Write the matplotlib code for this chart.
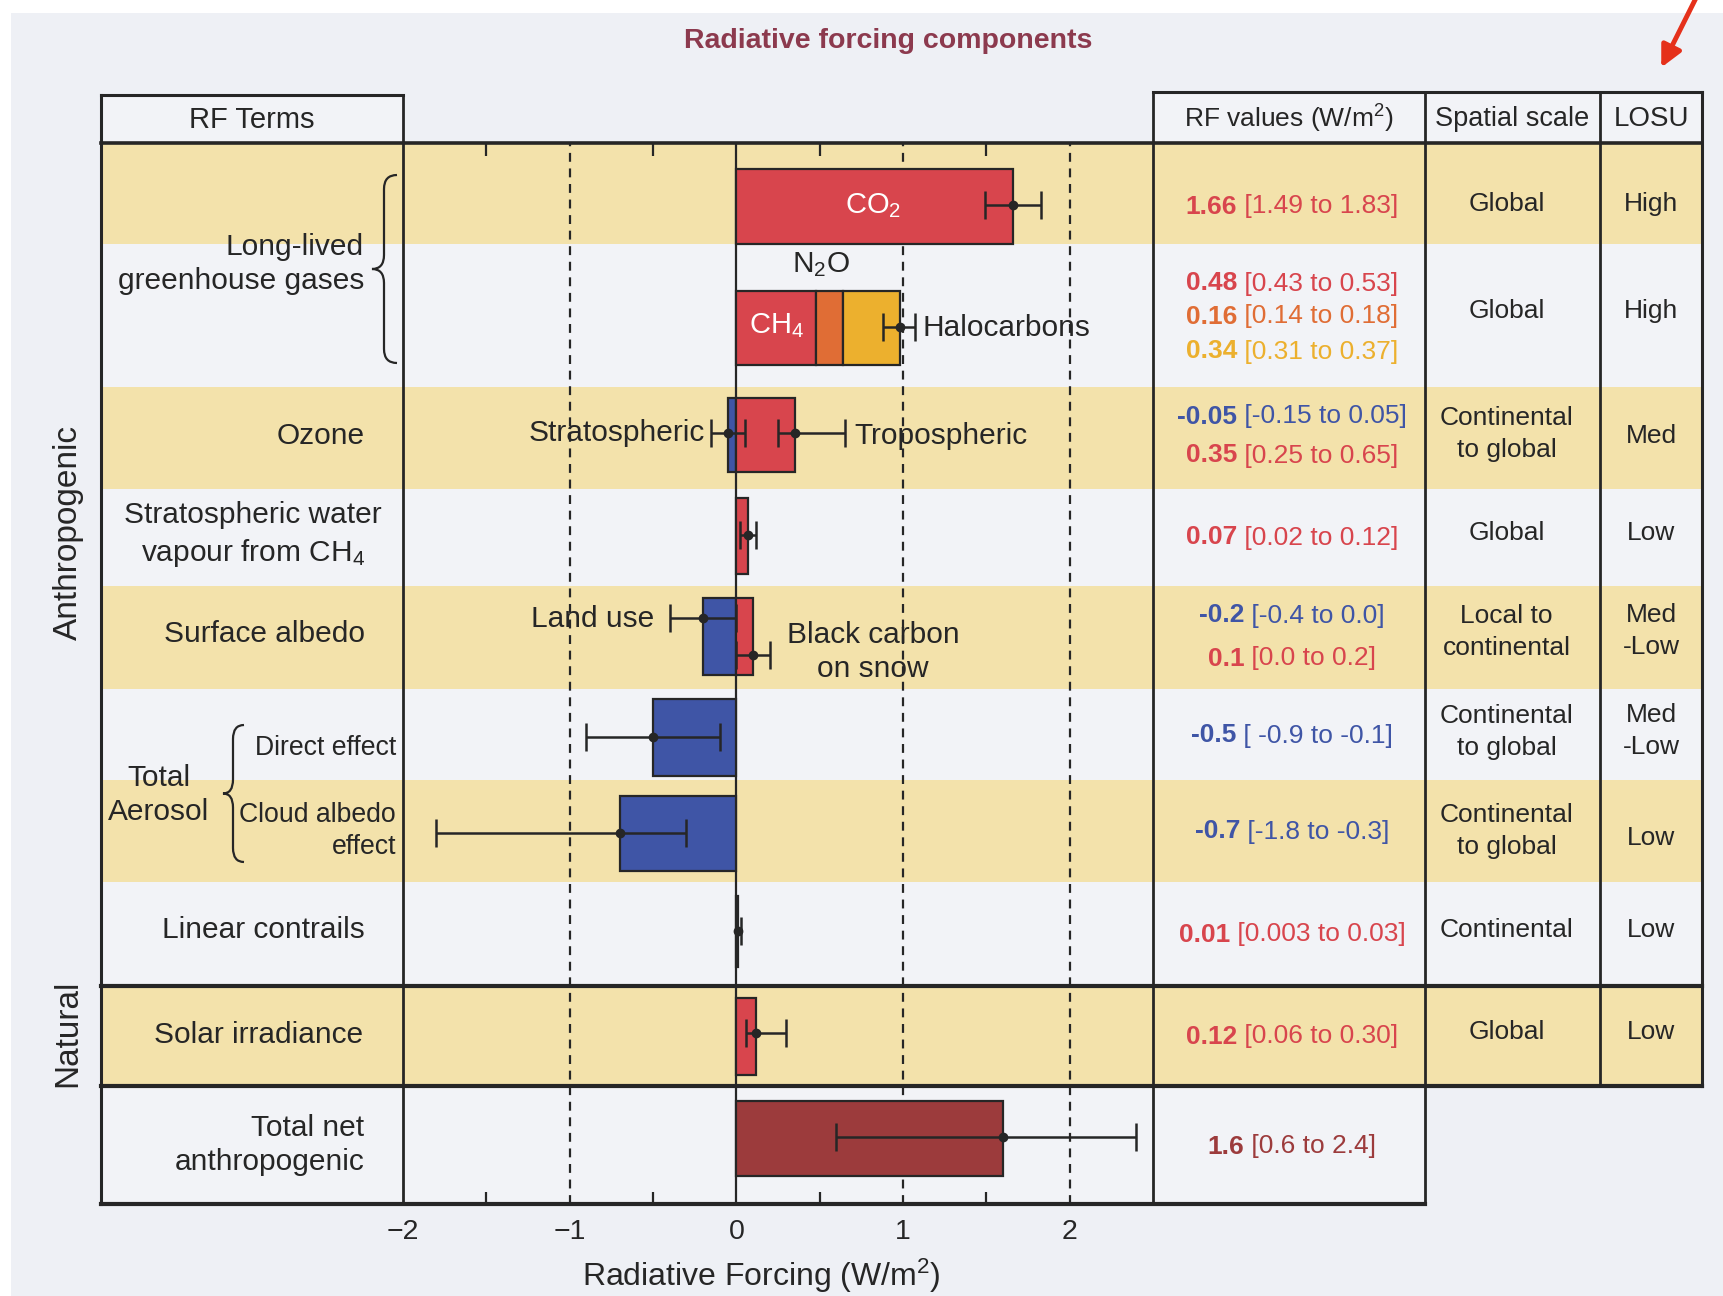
import matplotlib.pyplot as plt
from matplotlib.path import Path
from matplotlib.patches import PathPatch, Rectangle

plt.rcParams['font.family'] = ['Liberation Sans', 'DejaVu Sans']
plt.rcParams['mathtext.fontset'] = 'custom'
plt.rcParams['mathtext.rm'] = 'Liberation Sans'
plt.rcParams['mathtext.it'] = 'Liberation Sans:italic'
plt.rcParams['mathtext.bf'] = 'Liberation Sans:bold'

# ---------------- data ----------------
# single bars (W/m2)
bar_terms = ['CO2', 'Strat. ozone', 'Trop. ozone', 'Strat. water vapour', 'Land use',
             'BC on snow', 'Direct effect', 'Cloud albedo', 'Contrails', 'Solar', 'Total net']
bar_values = [1.66, -0.05, 0.35, 0.07, -0.2, 0.1, -0.5, -0.7, 0.01, 0.12, 1.6]

# stacked long-lived greenhouse gases
ghg_terms = ['CH4', 'N2O', 'Halocarbons']
ghg_values = [0.48, 0.16, 0.34]

# uncertainty ranges drawn as error bars
err_terms = ['CO2', 'CH4+N2O+Halo', 'Strat. ozone', 'Trop. ozone', 'Strat. water vapour', 'Land use',
             'BC on snow', 'Direct effect', 'Cloud albedo', 'Contrails', 'Solar', 'Total net']
err_best = [1.66, 0.98, -0.05, 0.35, 0.07, -0.2, 0.1, -0.5, -0.7, 0.01, 0.12, 1.6]
err_low = [1.49, 0.88, -0.15, 0.25, 0.02, -0.4, 0.0, -0.9, -1.8, 0.003, 0.06, 0.6]
err_high = [1.83, 1.07, 0.05, 0.65, 0.12, 0.0, 0.2, -0.1, -0.3, 0.03, 0.30, 2.4]

# table: RF values column
rf_best = ['1.66', '0.48', '0.16', '0.34', '-0.05', '0.35', '0.07', '-0.2', '0.1',
           '-0.5', '-0.7', '0.01', '0.12', '1.6']
rf_range = ['[1.49 to 1.83]', '[0.43 to 0.53]', '[0.14 to 0.18]', '[0.31 to 0.37]',
            '[-0.15 to 0.05]', '[0.25 to 0.65]', '[0.02 to 0.12]', '[-0.4 to 0.0]',
            '[0.0 to 0.2]', '[ -0.9 to -0.1]', '[-1.8 to -0.3]', '[0.003 to 0.03]',
            '[0.06 to 0.30]', '[0.6 to 2.4]']

spatial = ['Global', 'Global', 'Continental\nto global', 'Global', 'Local to\ncontinental',
           'Continental\nto global', 'Continental\nto global', 'Continental', 'Global']
losu = ['High', 'High', 'Med', 'Low', 'Med\n-Low', 'Med\n-Low', 'Low', 'Low', 'Low']

xticks = [-2, -1, 0, 1, 2]
xtick_labels = ['\u22122', '\u22121', '0', '1', '2']

# ---------------- styles / layout (pixels) ----------------
RED, BLUE, ORANGE, YELLOW, DARKRED = '#D8454D', '#3F55A6', '#E06D35', '#ECB02E', '#9C3B3C'
TAN, PALE, BG, INK = '#F3E2AB', '#F2F3F7', '#EEF0F5', '#262626'

bar_colors = [RED, BLUE, RED, RED, BLUE, RED, BLUE, BLUE, RED, RED, DARKRED]
bar_rows = [(169, 244), (398, 472), (398, 472), (498, 574), (598, 675), (598, 675),
            (699, 776), (796, 871), (896, 967), (998, 1075), (1101, 1176)]
ghg_colors = [RED, ORANGE, YELLOW]
ghg_row = (291, 365)
err_y = [205, 327, 433, 433, 535, 618, 655, 737, 833, 931, 1033, 1137]

rf_colors = [RED, RED, ORANGE, YELLOW, BLUE, RED, RED, BLUE, RED, BLUE, BLUE, RED, RED, DARKRED]
rf_y = [204, 281, 314, 349, 414, 453, 535, 613, 656, 733, 829, 932, 1034, 1144]
spatial_y = [204, 311, 434, 533, 632, 732, 831, 930, 1032]
losu_y = [204, 311, 436, 533, 631, 731, 838, 930, 1032]

tan_rows = [(143, 244), (387, 489), (586, 689), (780, 882), (986, 1086)]

W, H = 1723, 1296
X_L, X_T, X_P, X_RF, X_SS, X_LO = 101, 403, 1153, 1425, 1600, 1702
Y_TOP, Y_HEAD, Y_NAT, Y_TOT, Y_BOT = 95, 143, 986, 1086, 1204

fig = plt.figure(figsize=(W / 100, H / 100), dpi=100, facecolor='white')

# overlay in pixel coordinates for table and decorations
ov = fig.add_axes([0, 0, 1, 1], zorder=0)
ov.set_xlim(0, W)
ov.set_ylim(H, 0)
ov.axis('off')

ov.add_patch(Rectangle((11, 13), W - 11, H - 13, color=BG, lw=0))
ov.add_patch(Rectangle((X_L, Y_HEAD), X_LO - X_L, Y_TOT - Y_HEAD, color=PALE, lw=0))
for y0, y1 in tan_rows:
    ov.add_patch(Rectangle((X_L, y0), X_LO - X_L, y1 - y0, color=TAN, lw=0))
ov.add_patch(Rectangle((X_L, Y_TOT), X_RF - X_L, Y_BOT - Y_TOT, color=PALE, lw=0))
ov.add_patch(Rectangle((X_L, Y_TOP), X_T - X_L, Y_HEAD - Y_TOP, color=PALE, lw=0))
ov.add_patch(Rectangle((X_P, 92), X_LO - X_P, Y_HEAD - 92, color=PALE, lw=0))

lk = dict(color=INK, solid_capstyle='projecting')
ov.plot([X_L, X_T], [Y_TOP, Y_TOP], lw=2.2, **lk)
ov.plot([X_P, X_LO], [92, 92], lw=2.2, **lk)
ov.plot([X_L, X_LO], [Y_HEAD, Y_HEAD], lw=2.6, **lk)
ov.plot([X_L, X_LO], [Y_NAT, Y_NAT], lw=3, **lk)
ov.plot([X_L, X_LO], [Y_TOT, Y_TOT], lw=3, **lk)
ov.plot([X_L, X_RF], [Y_BOT, Y_BOT], lw=3, **lk)
ov.plot([X_L, X_L], [Y_TOP, Y_BOT], lw=2.2, **lk)
ov.plot([X_T, X_T], [Y_TOP, Y_BOT], lw=2.0, **lk)
ov.plot([X_P, X_P], [92, Y_BOT], lw=2.0, **lk)
ov.plot([X_RF, X_RF], [92, Y_BOT], lw=2.0, **lk)
ov.plot([X_SS, X_SS], [92, Y_TOT], lw=2.0, **lk)
ov.plot([X_LO, X_LO], [92, Y_TOT], lw=2.2, **lk)

# title and arrow
ov.text(888, 41, 'Radiative forcing components', ha='center', va='center', fontsize=20.5,
        fontweight='bold', color='#8C3A4E')
ov.annotate('', xy=(1660, 70), xytext=(1697, -4),
            arrowprops=dict(arrowstyle='-|>', color='#E5311B', lw=3.5, mutation_scale=32))

# headers
hk = dict(ha='center', va='center', color=INK)
ov.text((X_L + X_T) / 2, 120, 'RF Terms', fontsize=21, **hk)
ov.text((X_P + X_RF) / 2, 119, 'RF values (W/m$^2$)', fontsize=19, **hk)
ov.text((X_RF + X_SS) / 2, 119, 'Spatial scale', fontsize=19.5, **hk)
ov.text((X_SS + X_LO) / 2, 119, 'LOSU', fontsize=20, **hk)

# term labels
tk = dict(va='center', fontsize=21.5, color=INK, linespacing=1.3)
ov.text(364, 264, 'Long-lived\ngreenhouse gases', ha='right', multialignment='right', **tk)
ov.text(365, 436, 'Ozone', ha='right', **tk)
ov.text(253, 535, 'Stratospheric water\nvapour from CH$_4$', ha='center', **tk)
ov.text(265, 634, 'Surface albedo', ha='center', **tk)
ov.text(159, 795, 'Total\nAerosol', ha='center', **tk)
ov.text(396, 748, 'Direct effect', ha='right', fontsize=19.2, va='center', color=INK)
ov.text(396, 831, 'Cloud albedo\neffect', ha='right', multialignment='right', fontsize=19.2,
        va='center', color=INK, linespacing=1.3)
ov.text(263, 930, 'Linear contrails', ha='center', **tk)
ov.text(259, 1035, 'Solar irradiance', ha='center', **tk)
ov.text(364, 1145, 'Total net\nanthropogenic', ha='right', multialignment='right', **tk)
ov.text(68, 533, 'Anthropogenic', rotation=90, ha='center', va='center', fontsize=24, color=INK)
ov.text(68, 1033, 'Natural', rotation=90, ha='center', va='center', fontsize=24, color=INK)


def brace(x_end, x_mid, x_tip, y0, y1):
    ym = (y0 + y1) / 2
    r = 14
    verts = [(x_end, y0), (x_mid, y0), (x_mid, y0 + r), (x_mid, ym - r), (x_mid, ym), (x_tip, ym),
             (x_mid, ym), (x_mid, ym + r), (x_mid, y1 - r), (x_mid, y1), (x_end, y1)]
    codes = [Path.MOVETO, Path.CURVE3, Path.CURVE3, Path.LINETO, Path.CURVE3, Path.CURVE3,
             Path.CURVE3, Path.CURVE3, Path.LINETO, Path.CURVE3, Path.CURVE3]
    ov.add_patch(PathPatch(Path(verts, codes), fill=False, lw=1.6, ec=INK))


brace(397, 384, 372, 175, 363)
brace(244, 233, 223, 725, 862)

# right table text
tabk = dict(ha='center', va='center', fontsize=19, color=INK, linespacing=1.4)
for s, y in zip(spatial, spatial_y):
    ov.text((X_RF + X_SS) / 2 - 6, y, s, **tabk)
for s, y in zip(losu, losu_y):
    ov.text((X_SS + X_LO) / 2, y, s, **tabk)

rf_pairs = []
for b, r, c, y in zip(rf_best, rf_range, rf_colors, rf_y):
    t1 = ov.text(0, y, b, ha='left', va='center_baseline', fontsize=19, fontweight='bold', color=c)
    t2 = ov.text(0, y, ' ' + r, ha='left', va='center_baseline', fontsize=19, color=c)
    rf_pairs.append((t1, t2))

# bar panel
ax = fig.add_axes([X_T / W, 1 - Y_BOT / H, (X_P - X_T) / W, (Y_BOT - Y_HEAD) / H], zorder=2)
ax.patch.set_alpha(0)
ax.set_xlim(-2, 2.5)
ax.set_ylim(Y_BOT, Y_HEAD)
for sp in ax.spines.values():
    sp.set_visible(False)

for xv in [-1, 1, 2]:
    ax.axvline(xv, color=INK, lw=1.6, ls=(0, (4, 3)), zorder=1)
ax.axvline(0, color=INK, lw=1.6, zorder=1)

for v, c, (y0, y1) in zip(bar_values, bar_colors, bar_rows):
    ax.barh((y0 + y1) / 2, v, height=y1 - y0, left=0, color=c, edgecolor=INK, lw=1.6, zorder=3)

left = 0
for v, c in zip(ghg_values, ghg_colors):
    ax.barh((ghg_row[0] + ghg_row[1]) / 2, v, height=ghg_row[1] - ghg_row[0], left=left,
            color=c, edgecolor=INK, lw=1.6, zorder=3)
    left += v

for b, lo, hi, y in zip(err_best, err_low, err_high, err_y):
    ax.errorbar(b, y, xerr=[[b - lo], [hi - b]], fmt='o', color=INK, ms=6, capsize=10,
                elinewidth=1.8, capthick=1.8, zorder=4)

lab = dict(fontsize=21.5, color=INK, va='center', zorder=5)
ax.text(0.82, 206, 'CO$_2$', ha='center', fontsize=21, color='white', va='center', zorder=5)
ax.text(0.24, 326, 'CH$_4$', ha='center', fontsize=21, color='white', va='center', zorder=5)
ax.text(0.51, 265, 'N$_2$O', ha='center', **lab)
ax.text(1.115, 328, 'Halocarbons', ha='left', **lab)
ax.text(-0.19, 433, 'Stratospheric', ha='right', **lab)
ax.text(0.71, 436, 'Tropospheric', ha='left', **lab)
ax.text(-0.49, 619, 'Land use', ha='right', **lab)
ax.text(0.82, 652, 'Black carbon\non snow', ha='center', linespacing=1.3, **lab)

ax.set_xticks(xticks)
ax.set_xticklabels(xtick_labels, fontsize=20.5, color=INK)
ax.set_xticks([-1.5, -0.5, 0.5, 1.5], minor=True)
ax.tick_params(axis='x', which='major', length=0, pad=11)
ax.tick_params(axis='x', which='minor', direction='in', length=9, width=1.6, color=INK,
               top=True, bottom=True)
ax.set_yticks([])
ax.set_xlabel('Radiative Forcing (W/m$^2$)', fontsize=23, color=INK, labelpad=8, x=0.478)

# centre the two-part RF value strings in their column
fig.canvas.draw()
rend = fig.canvas.get_renderer()
xc = (X_P + X_RF) / 2 + 3
for t1, t2 in rf_pairs:
    w1 = t1.get_window_extent(rend).width
    w2 = t2.get_window_extent(rend).width
    x0 = xc - (w1 + w2) / 2
    t1.set_x(x0)
    t2.set_x(x0 + w1)

fig.savefig('out.png', dpi=100, facecolor='white')
